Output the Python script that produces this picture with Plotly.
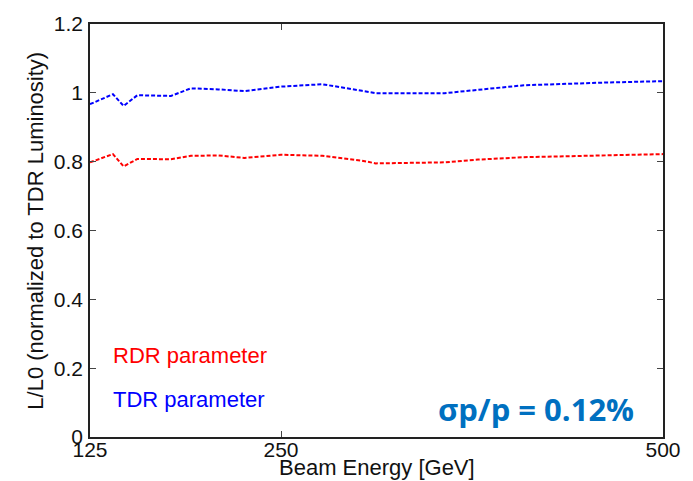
import plotly.graph_objects as go

energy = [125, 140, 147, 156, 178, 191, 209, 226, 250, 277, 303, 312, 357, 379, 409, 463, 500]
tdr = [0.967, 0.996, 0.962, 0.993, 0.991, 1.013, 1.010, 1.005, 1.018, 1.025, 1.006, 0.999, 0.999, 1.008, 1.022, 1.030, 1.034]
rdr = [0.798, 0.822, 0.786, 0.808, 0.807, 0.817, 0.818, 0.811, 0.820, 0.817, 0.803, 0.795, 0.798, 0.806, 0.813, 0.818, 0.822]

x_ticks = [125, 250, 500]
y_ticks = [0, 0.2, 0.4, 0.6, 0.8, 1.0, 1.2]
y_tick_text = ["0", "0.2", "0.4", "0.6", "0.8", "1", "1.2"]

FONT = "Liberation Sans, Arial, sans-serif"

fig = go.Figure()
fig.add_trace(go.Scatter(x=energy, y=rdr, mode="lines",
                         line=dict(color="#ff0000", width=2, dash="4px,2px"),
                         name="RDR parameter"))
fig.add_trace(go.Scatter(x=energy, y=tdr, mode="lines",
                         line=dict(color="#0000ff", width=2, dash="4px,2px"),
                         name="TDR parameter"))

axis_common = dict(showline=True, linecolor="#222222", linewidth=1.5, mirror="ticks",
                   ticks="inside", ticklen=6, tickcolor="#444444", tickwidth=1.2,
                   showgrid=False, zeroline=False,
                   tickfont=dict(family=FONT, size=21, color="#111111"))

fig.update_layout(
    width=693, height=481,
    margin=dict(l=90, r=28, t=23, b=44),
    paper_bgcolor="white", plot_bgcolor="white",
    showlegend=False,
    xaxis=dict(range=[125, 500], tickvals=x_ticks, ticktext=[str(v) for v in x_ticks],
               ticklabelstandoff=-7, **axis_common),
    yaxis=dict(range=[0, 1.2], tickvals=y_ticks, ticktext=y_tick_text, ticklabelstandoff=1, **axis_common),
    annotations=[
        dict(text="L/L0 (normalized to TDR Luminosity)", xref="paper", yref="paper",
             x=-0.0957, y=0.5, textangle=-90, showarrow=False,
             font=dict(family=FONT, size=22, color="#111111"), xanchor="center", yanchor="middle"),
        dict(text="Beam Energy [GeV]", xref="paper", yref="paper",
             x=0.501, y=-0.074, showarrow=False,
             font=dict(family=FONT, size=22, color="#111111"), xanchor="center", yanchor="middle"),
        dict(text="RDR parameter", xref="paper", yref="paper",
             x=0.036, y=0.198, showarrow=False,
             font=dict(family=FONT, size=22, color="#ff0000"), xanchor="left", yanchor="middle"),
        dict(text="TDR parameter", xref="paper", yref="paper",
             x=0.036, y=0.092, showarrow=False,
             font=dict(family=FONT, size=22, color="#0000ff"), xanchor="left", yanchor="middle"),
        dict(text="<b>σp/p = 0.12%</b>", xref="paper", yref="paper",
             x=0.779, y=0.068, showarrow=False,
             font=dict(family="Open Sans, sans-serif", size=31, color="#0070c0"),
             xanchor="center", yanchor="middle"),
    ],
)

fig.write_html("out.html")
